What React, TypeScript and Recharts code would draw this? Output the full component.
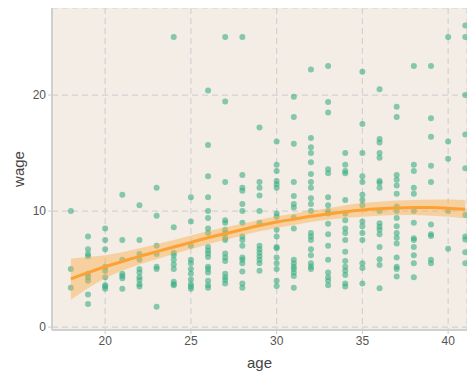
import * as React from "react";
import {ComposedChart, Scatter, Line, Area, XAxis, YAxis, CartesianGrid} from "recharts";

const wagesByAge: [number, number[]][] = [
    [18, [10.0, 5.0, 3.4]],
    [19, [7.8, 6.7, 6.3, 6.1, 4.6, 4.3, 4.0, 2.8, 2.0]],
    [20, [8.5, 7.5, 6.7, 5.2, 4.85, 4.3, 3.6, 3.5, 3.3]],
    [21, [11.4, 7.5, 5.8, 4.6, 4.4, 4.2, 3.3]],
    [22, [10.5, 7.5, 6.3, 5.8, 5.0, 4.7, 4.3, 4.05, 3.7, 3.5]],
    [23, [12.0, 9.6, 7.0, 6.3, 5.2, 5.0, 1.75]],
    [24, [25.0, 8.6, 6.4, 6.2, 5.8, 5.4, 5.0, 3.9, 3.7, 3.6]],
    [25, [11.2, 9.1, 7.0, 5.8, 5.5, 5.0, 4.6, 4.1, 3.7, 3.5, 3.3]],
    [26, [20.4, 15.7, 13.0, 11.2, 10.0, 9.4, 8.5, 8.1, 6.9, 6.6, 6.35, 6.05, 5.2, 5.0, 4.7, 4.0, 3.6, 3.4]],
    [27, [25.0, 19.45, 12.5, 9.2, 9.0, 8.4, 8.1, 7.7, 7.5, 6.35, 6.0, 5.7, 4.6, 4.3, 4.05, 3.75]],
    [28, [25.0, 13.1, 12.0, 11.75, 10.6, 10.0, 9.0, 7.8, 7.5, 7.0, 6.0, 5.8, 5.5, 4.8, 3.75, 3.4]],
    [29, [17.2, 12.5, 12.0, 11.35, 10.0, 9.0, 7.0, 6.7, 6.4, 6.1, 5.8, 5.5, 4.85]],
    [30, [16.0, 14.0, 13.45, 12.6, 12.3, 12.0, 9.8, 9.5, 8.4, 7.8, 6.9, 6.8, 6.0, 5.5, 5.0, 4.0, 3.55]],
    [31, [19.85, 18.1, 15.8, 12.5, 11.3, 10.6, 10.3, 9.45, 8.5, 5.8, 5.5, 5.2, 5.0, 4.7, 4.4, 3.4]],
    [32, [22.2, 16.3, 15.5, 15.0, 14.2, 13.2, 12.5, 12.0, 11.1, 10.6, 10.0, 8.1, 7.8, 7.5, 6.7, 6.2, 5.5, 5.2, 5.0]],
    [33, [22.5, 19.4, 18.5, 13.6, 13.25, 11.2, 10.5, 10.0, 9.8, 8.9, 8.0, 7.0, 5.8, 4.7, 4.3, 4.0, 3.6]],
    [34, [15.0, 14.0, 13.45, 13.25, 10.95, 9.8, 9.2, 8.5, 8.1, 7.5, 6.5, 5.7, 5.2, 4.85, 4.5, 3.75, 3.5]],
    [35, [22.0, 17.5, 15.0, 13.0, 12.5, 11.4, 10.95, 10.5, 9.1, 8.7, 8.1, 7.5, 5.5, 5.1, 3.75]],
    [36, [20.5, 16.2, 15.9, 15.0, 14.6, 12.6, 12.45, 12.0, 10.0, 8.95, 8.65, 8.4, 8.0, 6.9, 5.85, 5.35, 3.35]],
    [37, [19.0, 18.1, 13.1, 12.7, 12.2, 11.5, 10.4, 10.0, 9.4, 8.7, 8.1, 7.7, 7.2, 6.0, 5.2, 5.0, 4.35]],
    [38, [22.5, 14.0, 13.45, 12.0, 11.5, 10.0, 9.0, 7.65, 7.5, 6.9, 6.2, 5.5, 4.3]],
    [39, [22.5, 18.0, 16.4, 13.9, 12.5, 8.85, 8.0, 7.85, 5.8, 5.5]],
    [40, [25.0, 16.0, 14.5, 10.0, 6.75]],
    [41, [26.0, 25.0, 20.0, 16.6, 13.7, 9.65, 7.8, 7.55, 6.45, 5.5]],
];

// smoothed fit and its confidence band
const fitAges = [18, 19, 20, 21, 22, 23, 24, 25, 26, 27, 28, 29, 30, 31, 32, 33, 34, 35, 36, 37, 38, 39, 40, 41];
const fitWage = [4.15, 4.7, 5.2, 5.65, 6.1, 6.5, 6.9, 7.3, 7.7, 8.05, 8.4, 8.75, 9.05, 9.3, 9.55, 9.75, 9.95, 10.1, 10.2, 10.27, 10.3, 10.3, 10.25, 10.15];
const fitLow = [2.35, 3.35, 4.2, 4.85, 5.4, 5.85, 6.3, 6.7, 7.15, 7.5, 7.9, 8.25, 8.55, 8.8, 9.05, 9.25, 9.4, 9.5, 9.6, 9.65, 9.65, 9.6, 9.5, 9.35];
const fitHigh = [5.9, 6.05, 6.2, 6.45, 6.8, 7.15, 7.5, 7.9, 8.25, 8.6, 8.9, 9.25, 9.55, 9.8, 10.05, 10.25, 10.5, 10.7, 10.8, 10.9, 10.95, 11.0, 11.0, 10.95];

const xTicks = [20, 25, 30, 35, 40];
const yTicks = [0, 10, 20];

const points = wagesByAge.flatMap(([age, ws]) => ws.map((w) => ({age, wage: w})));
const fitData = fitAges.map((a, i) => ({age: a, fit: fitWage[i], band: [fitLow[i], fitHigh[i]]}));

const font = "'Liberation Sans', Arial, sans-serif";
const tickStyle = {fontSize: 12, fill: "#555", fontFamily: font};

const Dot = (props: any) => (
    <circle cx={props.cx} cy={props.cy} r={3} fill="#3aad84" fillOpacity={0.6}/>
);

export default function App() {
    return (
        <div style={{fontFamily: font}}>
            <ComposedChart width={467} height={372} data={fitData} margin={{top: 0, right: 8, bottom: 0, left: 0}}>
                <CartesianGrid fill="#f3ede6" stroke="#d2d2d2" strokeDasharray="6 4" strokeWidth={1.2}/>
                <XAxis type="number" dataKey="age" domain={[16.9, 41.1]} ticks={xTicks} allowDataOverflow
                       height={50} tick={tickStyle} tickSize={4} stroke="#d0d0d0" strokeWidth={2}
                       tickLine={{stroke: "#cccccc", strokeWidth: 1}}
                       label={{value: "age", position: "insideBottom", offset: 12, fontSize: 15, fill: "#444", fontFamily: font}}/>
                <YAxis type="number" domain={[-0.25, 27.5]} ticks={yTicks} allowDataOverflow width={44}
                       tick={tickStyle} tickSize={4} stroke="#d0d0d0" strokeWidth={2}
                       tickLine={{stroke: "#cccccc", strokeWidth: 1}}
                       label={{value: "wage", angle: -90, position: "insideLeft", offset: 11, fontSize: 15, fill: "#444", fontFamily: font, style: {textAnchor: "middle"}}}/>
                <Scatter data={points} dataKey="wage" shape={<Dot/>} isAnimationActive={false} zIndex={500}/>
                <Area dataKey="band" type="monotone" fill="#fdae4b" fillOpacity={0.45} stroke="none" isAnimationActive={false} zIndex={700}/>
                <Line dataKey="fit" type="monotone" stroke="#fca235" strokeWidth={3} dot={false} isAnimationActive={false} zIndex={800}/>
            </ComposedChart>
        </div>
    );
}
